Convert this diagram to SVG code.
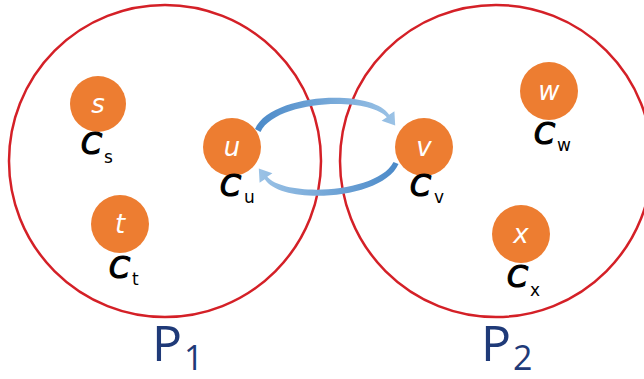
<svg xmlns="http://www.w3.org/2000/svg" width="644" height="379" viewBox="0 0 644 379">
<style>
.part{fill:none;stroke:#d42027;stroke-width:2.5}
.node{fill:#ed7d31}
.nl{font-family:"DejaVu Sans",sans-serif;font-style:italic;font-size:26px;fill:#fff;text-anchor:middle}
.c{font-family:"DejaVu Sans",sans-serif;font-style:italic;font-size:30px;fill:#000;stroke:#000;stroke-width:1.2}
.sub{font-family:"DejaVu Sans",sans-serif;font-size:17px;fill:#000}
.p{font-family:"Open Sans",sans-serif;font-size:50px;fill:#1f3a78}
.ps{font-family:"Open Sans",sans-serif;font-size:34px;fill:#1f3a78}
</style>
<defs>
<linearGradient id="gTop" x1="254" y1="0" x2="396" y2="0" gradientUnits="userSpaceOnUse">
<stop offset="0" stop-color="#4a89c8"/><stop offset="1" stop-color="#9cc3e6"/>
</linearGradient>
<linearGradient id="gBot" x1="400" y1="0" x2="258" y2="0" gradientUnits="userSpaceOnUse">
<stop offset="0" stop-color="#4a89c8"/><stop offset="1" stop-color="#9cc3e6"/>
</linearGradient>
</defs>
<rect width="644" height="379" fill="#fff"/>
<g id="P1"><circle class="part" cx="165" cy="161" r="156"/><text x="152" y="361" class="p">P</text><text x="184" y="370" class="ps">1</text></g>
<g id="P2"><circle class="part" cx="496" cy="161" r="156"/><text x="481" y="361" class="p">P</text><text x="513" y="370" class="ps">2</text></g>
<g id="connectors">
<path fill="url(#gTop)" d="M255,129 C271,93 372,88 389.2,114.8 L394.4,111.2 L395.2,125.6 L381.6,120.8 L386.8,117.2 C368,96 276,100 260.5,132 Z"/>
<path fill="url(#gBot)" d="M398.5,164 C383,200 282,206 264.8,179.2 L259.6,182.8 L258.8,168.4 L272.4,173.2 L267.2,176.8 C286,198 378,193 393.5,162 Z"/>
</g>
<g id="s"><circle class="node" cx="98" cy="104" r="28"/><text x="98" y="113" class="nl">s</text><text x="81" y="154" class="c">C</text><text x="104" y="163" class="sub">s</text></g>
<g id="t"><circle class="node" cx="120" cy="224" r="29"/><text x="120" y="233" class="nl">t</text><text x="109" y="278" class="c">C</text><text x="132" y="285" class="sub">t</text></g>
<g id="u"><circle class="node" cx="232" cy="147" r="29"/><text x="232" y="156" class="nl">u</text><text x="220" y="196" class="c">C</text><text x="244" y="203" class="sub">u</text></g>
<g id="v"><circle class="node" cx="424" cy="147" r="29"/><text x="424" y="156" class="nl">v</text><text x="410" y="196" class="c">C</text><text x="434" y="203" class="sub">v</text></g>
<g id="w"><circle class="node" cx="549" cy="91" r="29"/><text x="549" y="100" class="nl">w</text><text x="534" y="144" class="c">C</text><text x="557" y="151" class="sub">w</text></g>
<g id="x"><circle class="node" cx="521" cy="234" r="29"/><text x="521" y="243" class="nl">x</text><text x="507" y="287" class="c">C</text><text x="530" y="296" class="sub">x</text></g>
</svg>
